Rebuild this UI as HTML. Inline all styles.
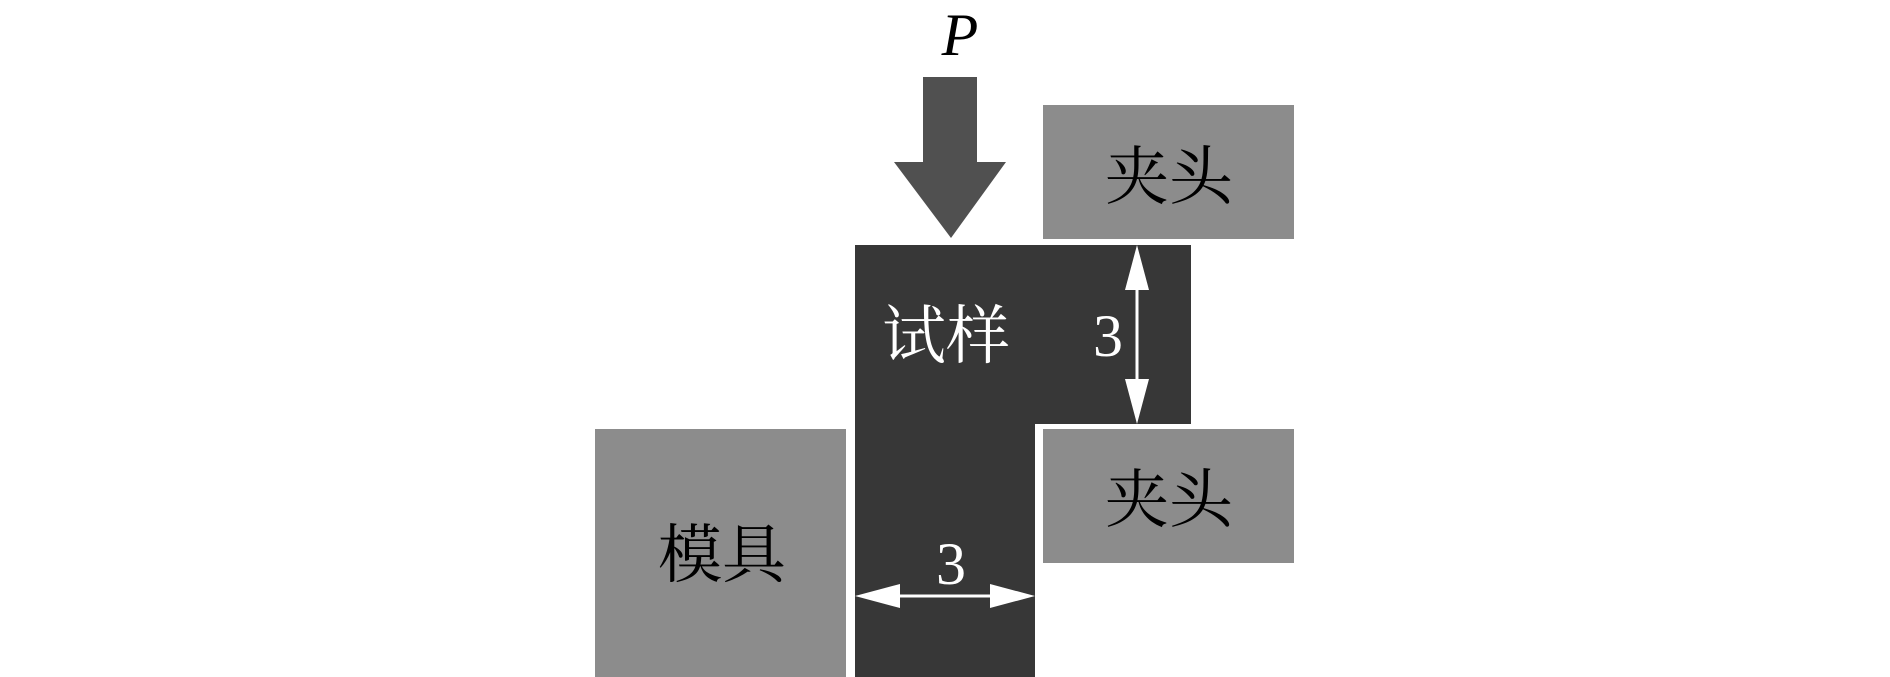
<!DOCTYPE html>
<html><head><meta charset="utf-8"><style>html,body{margin:0;padding:0;background:#fff;}svg{display:block}</style></head>
<body>
<svg width="1890" height="677" viewBox="0 0 1890 677" xmlns="http://www.w3.org/2000/svg">
<rect x="0" y="0" width="1890" height="677" fill="#fff"/>
<text x="960" y="55" font-family="Liberation Serif, serif" font-style="italic" font-size="60" text-anchor="middle" fill="#000">P</text>
<polygon points="923,77 977,77 977,162 1006,162 951,238 894,162 923,162" fill="#505050"/>
<rect x="1043" y="105" width="251" height="134" fill="#8c8c8c"/>
<rect x="1043" y="429" width="251" height="134" fill="#8c8c8c"/>
<rect x="595" y="429" width="251" height="248" fill="#8c8c8c"/>
<polygon points="855,245 1191,245 1191,424 1035,424 1035,677 855,677" fill="#373737"/>
<line x1="1137" y1="275" x2="1137" y2="396" stroke="#fff" stroke-width="3"/>
<polygon points="1137,245 1125,290 1149,290" fill="#fff"/>
<polygon points="1137,424 1125,379 1149,379" fill="#fff"/>
<line x1="895" y1="596" x2="995" y2="596" stroke="#fff" stroke-width="3"/>
<polygon points="855,596 900,584 900,608" fill="#fff"/>
<polygon points="1035,596 990,584 990,608" fill="#fff"/>
<g font-family="Liberation Serif, 'Noto Serif CJK SC', serif">
<text x="1108" y="356" font-size="60" fill="#fff" text-anchor="middle">3</text>
<text x="951" y="584" font-size="60" fill="#fff" text-anchor="middle">3</text>
<text x="946" y="358" font-size="64" fill="#fff" text-anchor="middle">试样</text>
<text x="1169" y="199" font-size="64" fill="#000" text-anchor="middle">夹头</text>
<text x="1169" y="522" font-size="64" fill="#000" text-anchor="middle">夹头</text>
<text x="722" y="577" font-size="64" fill="#000" text-anchor="middle">模具</text>
</g>
</svg>
</body></html>
